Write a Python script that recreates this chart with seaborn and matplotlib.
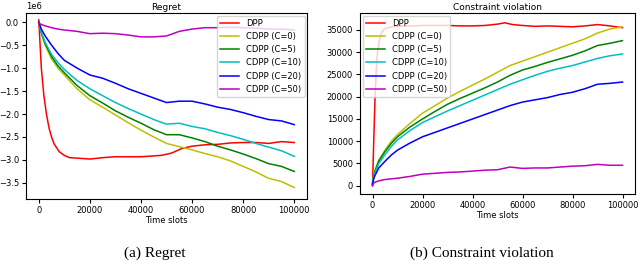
import numpy as np
import pandas as pd
import matplotlib
matplotlib.use("Agg")
import matplotlib.pyplot as plt
import seaborn as sns

methods = ["DPP", "CDPP (C=0)", "CDPP (C=5)", "CDPP (C=10)", "CDPP (C=20)", "CDPP (C=50)"]
colors = ["#ff0000", "#bfbf00", "#008000", "#00bfbf", "#0000ff", "#bf00bf"]

# ---- Regret (units of 1e6) ----
t_dpp_reg = [0, 1000, 2000, 3000, 4000, 5000, 6000, 8000, 10000, 12000, 15000, 20000, 25000,
             30000, 40000, 48000, 52000, 56000, 60000, 65000, 70000, 75000, 80000, 85000, 90000, 95000, 100000]
reg_dpp = [0.05, -1.0, -1.6, -2.0, -2.3, -2.5, -2.65, -2.82, -2.9, -2.95, -2.96, -2.98, -2.95,
           -2.93, -2.93, -2.9, -2.85, -2.75, -2.7, -2.67, -2.66, -2.63, -2.62, -2.62, -2.64, -2.6, -2.62]

t_reg = [0, 1000, 2500, 5000, 7500, 10000, 15000, 20000, 25000, 30000, 35000, 40000, 45000, 50000,
         55000, 60000, 65000, 70000, 75000, 80000, 85000, 90000, 95000, 100000]
reg_c0 = [0.0, -0.25, -0.5, -0.8, -1.0, -1.15, -1.45, -1.69, -1.85, -2.02, -2.19, -2.35, -2.5, -2.64,
          -2.71, -2.78, -2.86, -2.93, -3.02, -3.14, -3.26, -3.4, -3.47, -3.6]
reg_c5 = [0.0, -0.23, -0.47, -0.75, -0.95, -1.1, -1.38, -1.6, -1.76, -1.93, -2.07, -2.2, -2.34, -2.45,
          -2.45, -2.52, -2.6, -2.7, -2.78, -2.87, -2.97, -3.08, -3.14, -3.25]
reg_c10 = [0.0, -0.22, -0.44, -0.7, -0.88, -1.03, -1.27, -1.45, -1.6, -1.75, -1.88, -2.0, -2.12, -2.22,
           -2.2, -2.27, -2.32, -2.4, -2.47, -2.55, -2.64, -2.72, -2.8, -2.92]
reg_c20 = [0.0, -0.15, -0.3, -0.5, -0.68, -0.83, -1.0, -1.15, -1.22, -1.33, -1.45, -1.55, -1.65, -1.75,
           -1.72, -1.72, -1.78, -1.85, -1.9, -1.97, -2.05, -2.12, -2.15, -2.23]
reg_c50 = [-0.02, -0.05, -0.08, -0.12, -0.15, -0.17, -0.2, -0.25, -0.24, -0.25, -0.28, -0.32, -0.32, -0.3,
           -0.2, -0.15, -0.12, -0.12, -0.11, -0.12, -0.13, -0.15, -0.15, -0.17]

# ---- Constraint violation ----
t_dpp_cv = [0, 500, 1000, 1500, 2000, 3000, 4000, 5000, 7000, 10000, 15000, 20000, 25000, 30000,
            35000, 40000, 45000, 50000, 53000, 56000, 60000, 65000, 70000, 75000, 80000, 85000, 90000, 95000, 100000]
cv_dpp = [0, 10000, 19500, 26000, 30000, 33500, 34800, 35300, 35600, 35800, 35900, 36000, 36000, 36000,
          35900, 35900, 36000, 36300, 36600, 36200, 36000, 35800, 35900, 35800, 35700, 35900, 36200, 35900, 35500]

t_cv = [0, 500, 1000, 2500, 5000, 7500, 10000, 15000, 20000, 25000, 30000, 35000, 40000, 45000, 50000,
        55000, 60000, 65000, 70000, 75000, 80000, 85000, 90000, 95000, 100000]
cv_c0 = [500, 2500, 3500, 5800, 8000, 10000, 11500, 14000, 16300, 18000, 19700, 21200, 22600, 24000, 25500,
         27000, 28000, 29000, 30000, 31000, 32000, 33000, 34300, 35200, 35700]
cv_c5 = [400, 2300, 3200, 5500, 7700, 9500, 11000, 13200, 15000, 16700, 18300, 19600, 20800, 22000, 23300,
         24800, 26000, 26800, 27700, 28500, 29300, 30300, 31500, 32000, 32600]
cv_c10 = [400, 2100, 2900, 5000, 7000, 8800, 10300, 12400, 14200, 15500, 16800, 18000, 19200, 20400, 21600,
          22800, 23800, 24800, 25700, 26400, 27000, 27800, 28600, 29200, 29600]
cv_c20 = [300, 1600, 2300, 4000, 5500, 6900, 8000, 9600, 11000, 12000, 13000, 14000, 15000, 16000, 17000,
          18000, 18800, 19300, 19800, 20500, 21000, 21800, 22800, 23000, 23300]
cv_c50 = [0, 600, 800, 1100, 1400, 1550, 1700, 2100, 2600, 2800, 3000, 3100, 3300, 3500, 3600,
          4200, 3900, 4000, 4000, 4200, 4400, 4500, 4800, 4600, 4600]


def long_df(series):
    frames = []
    for name, t, v in series:
        frames.append(pd.DataFrame({"t": t, "v": v, "method": name}))
    return pd.concat(frames, ignore_index=True)


df_reg = long_df([
    ("DPP", t_dpp_reg, np.array(reg_dpp) * 1e6),
    ("CDPP (C=0)", t_reg, np.array(reg_c0) * 1e6),
    ("CDPP (C=5)", t_reg, np.array(reg_c5) * 1e6),
    ("CDPP (C=10)", t_reg, np.array(reg_c10) * 1e6),
    ("CDPP (C=20)", t_reg, np.array(reg_c20) * 1e6),
    ("CDPP (C=50)", t_reg, np.array(reg_c50) * 1e6),
])
df_cv = long_df([
    ("DPP", t_dpp_cv, cv_dpp),
    ("CDPP (C=0)", t_cv, cv_c0),
    ("CDPP (C=5)", t_cv, cv_c5),
    ("CDPP (C=10)", t_cv, cv_c10),
    ("CDPP (C=20)", t_cv, cv_c20),
    ("CDPP (C=50)", t_cv, cv_c50),
])

plt.rcParams["font.family"] = ["DejaVu Sans"]
fs = 6

fig = plt.figure(figsize=(6.4, 2.61), dpi=100)
W, H = 640, 261
ax1 = fig.add_axes([26 / W, (H - 199) / H, (307 - 26) / W, (199 - 13) / H])
ax2 = fig.add_axes([360 / W, (H - 194) / H, (635 - 360) / W, (194 - 13) / H])

pal = dict(zip(methods, colors))
for ax, df in ((ax1, df_reg), (ax2, df_cv)):
    sns.lineplot(data=df, x="t", y="v", hue="method", hue_order=methods, palette=pal,
                 ax=ax, linewidth=1.1, estimator=None, sort=True)
    ax.set_xlim(-5000, 105000)
    ax.set_xticks([0, 20000, 40000, 60000, 80000, 100000])
    ax.set_xlabel("Time slots", fontsize=fs, labelpad=1)
    ax.set_ylabel("")
    ax.tick_params(labelsize=fs, length=3, pad=2)
    ax.yaxis.get_offset_text().set_fontsize(fs)

ax1.set_ylim(-3.85e6, 0.2e6)
ax1.set_yticks(np.array([0.0, -0.5, -1.0, -1.5, -2.0, -2.5, -3.0, -3.5]) * 1e6)
ax2.set_ylim(-1850, 38800)
ax2.set_yticks([0, 5000, 10000, 15000, 20000, 25000, 30000, 35000])

ax1.set_title("Regret", fontsize=fs + 0.5, pad=2)
ax2.set_title("Constraint violation", fontsize=fs + 0.5, pad=2)

ax1.legend(loc="upper right", fontsize=fs, handlelength=2.3, borderaxespad=0.3)
ax2.legend(loc="upper left", fontsize=fs, handlelength=2.3, borderaxespad=0.3)

fig.text(155 / W, 1 - 253 / H, "(a) Regret", ha="center", va="center",
         family="Liberation Serif", fontsize=11)
fig.text(482 / W, 1 - 253 / H, "(b) Constraint violation", ha="center", va="center",
         family="Liberation Serif", fontsize=11)

fig.savefig("out.png", dpi=100)
